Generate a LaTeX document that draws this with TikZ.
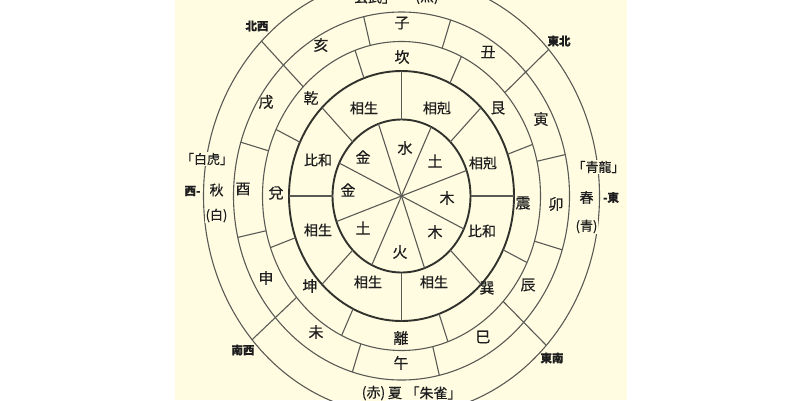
\documentclass[tikz,border=0pt]{standalone}
\usepackage{fontspec}
\setmainfont{Noto Sans CJK JP}[FakeBold=0.4]
\definecolor{cream}{RGB}{255,252,226}
\definecolor{ink}{RGB}{30,30,30}
\definecolor{ln}{RGB}{90,90,85}
\definecolor{lnd}{RGB}{50,50,45}
\newcommand\ringline[5]{\draw[thin line] ({401.5+#1*cos(#5)},{196-#2*sin(#5)}) -- ({401.5+#3*cos(#5)},{196-#4*sin(#5)});}
\begin{document}
\begin{tikzpicture}[x=1pt,y=-1pt,
  thin line/.style={draw=ln,line width=1.1pt},
  thick ring/.style={draw=lnd,line width=1.9pt},
  lab/.style={text=ink,font=\fontsize{15}{15}\selectfont,inner sep=0pt},
  rel/.style={text=ink,font=\fontsize{14}{14}\selectfont,inner sep=0pt},
  side/.style={text=ink,font=\fontsize{13}{13}\selectfont,fill=cream,inner sep=0.6pt},
  dir/.style={text=ink,font=\fontsize{11.5}{11.5}\selectfont\bfseries,inner sep=0.5pt},
]
\useasboundingbox (0,0) rectangle (800,400);
\fill[white] (0,0) rectangle (800,400);
\fill[cream] (175,0) rectangle (627,400);
\coordinate (O) at (401.5,196);
% rings
\draw[thin line] (O) ellipse [x radius=198, y radius=219];
\draw[thin line] (O) ellipse [x radius=168, y radius=184];
\draw[thin line] (O) ellipse [x radius=139, y radius=154.5];
\draw[thick ring] (O) ellipse [x radius=112.5, y radius=125];
\draw[thick ring] (O) ellipse [x radius=69, y radius=76.5];
% element sectors
\foreach \t in {19.5,64.5,109.5,154.5,199.5,244.5,289.5,334.5} {\ringline{0}{0}{69}{76.5}{\t}}
% relation ring
\foreach \t in {0,45,90,135,180,225,270,315} {\ringline{69}{76.5}{112.5}{125}{\t}}
% trigram ring
\foreach \t in {19.5,64.5,109.5,154.5,199.5,244.5,289.5,334.5} {\ringline{112.5}{125}{139}{154.5}{\t}}
% branch ring
\foreach \t in {13,73,103,163,193,253,283,343} {\ringline{139}{154.5}{168}{184}{\t}}
\foreach \t in {42,135,221,317} {\ringline{139}{154.5}{198}{219}{\t}}
% elements
\node[lab] (e1) at (405,148) {水};
\node[lab] (e2) at (435,161) {土};
\node[lab] (e3) at (447,198) {木};
\node[lab] (e4) at (435,232) {木};
\node[lab] (e5) at (400,252) {火};
\node[lab] (e6) at (363,228) {土};
\node[lab] (e7) at (348,190) {金};
\node[lab] (e8) at (363,157) {金};
% relations
\node[rel] (r1) at (364,108) {相生};
\node[rel] (r2) at (437,108) {相剋};
\node[rel] (r3) at (483,163) {相剋};
\node[rel] (r4) at (482,231) {比和};
\node[rel] (r5) at (434,282) {相生};
\node[rel] (r6) at (368,282) {相生};
\node[rel] (r7) at (318,230) {相生};
\node[rel] (r8) at (318,160) {比和};
% trigrams
\node[lab] (t1) at (402,57) {坎};
\node[lab] (t2) at (498,108) {艮};
\node[lab] (t3) at (523,203) {震};
\node[lab] (t4) at (487,288) {巽};
\node[lab] (t5) at (401,338) {離};
\node[lab] (t6) at (310,286) {坤};
\node[lab] (t7) at (276,193) {兌};
\node[lab] (t8) at (311,98) {乾};
% branches
\node[lab] (b1) at (402,23) {子};
\node[lab] (b2) at (488,52) {丑};
\node[lab] (b3) at (541,119) {寅};
\node[lab] (b4) at (556,204) {卯};
\node[lab] (b5) at (528,285) {辰};
\node[lab] (b6) at (483,337) {巳};
\node[lab] (b7) at (401,363) {午};
\node[lab] (b8) at (316,332) {未};
\node[lab] (b9) at (266,278) {申};
\node[lab] (b10) at (243,189) {酉};
\node[lab] (b11) at (266,102) {戌};
\node[lab] (b12) at (321,45) {亥};
% directions
\node[dir] (d1) at (257,26) {北西};
\node[dir] (d2) at (559,41) {東北};
\node[dir] (d3) at (243,350) {南西};
\node[dir] (d4) at (552,358) {東南};
% west
\node[side] (w1) at (207,159) {「白虎」};
\node[dir,fill=cream] (w2) at (192.5,191) {西-};
\node[side,font=\fontsize{14}{14}\selectfont] (w3) at (216.5,190) {秋};
\node[side] (w4) at (216.5,215.5) {(白)};
% east
\node[side] (x1) at (598.5,167) {「青龍」};
\node[side,font=\fontsize{14}{14}\selectfont] (x2) at (586.5,197.5) {春};
\node[dir,fill=cream] (x3) at (611,197.5) {-東};
\node[side] (x4) at (586.5,226.5) {(青)};
% south
\node[side,font=\fontsize{14}{14}\selectfont] (s1) at (373.5,393) {(赤)};
\node[side,font=\fontsize{14}{14}\selectfont] (s2) at (395,393) {夏};
\node[side,font=\fontsize{14}{14}\selectfont] (s3) at (433.5,393) {「朱雀」};
% north (cut off at the top edge, as in the reference)
\node[side,font=\fontsize{14}{14}\selectfont] (n1) at (368,-3) {「玄武」};
\node[side,font=\fontsize{14}{14}\selectfont] (n2) at (427,-3) {(黒)};
\end{tikzpicture}
\end{document}
